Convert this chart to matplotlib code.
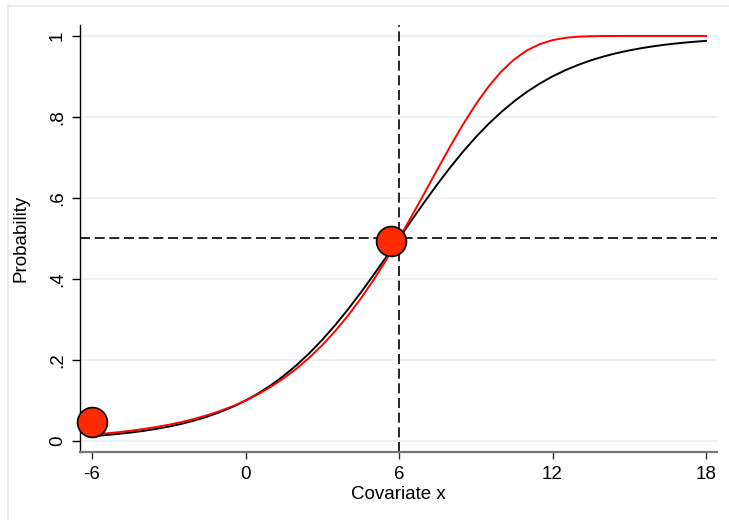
import matplotlib
matplotlib.use("Agg")
import matplotlib.pyplot as plt
from matplotlib.lines import Line2D

plt.rcParams['font.family'] = ['Liberation Sans', 'DejaVu Sans']

# Black curve
x_black = [-6, -5.5, -5, -4.5, -4, -3.5, -3, -2.5, -2, -1.5, -1, -0.5, 0, 0.5,
           1, 1.5, 2, 2.5, 3, 3.5, 4, 4.5, 5, 5.5, 6, 6.5, 7, 7.5, 8, 8.5, 9,
           9.5, 10, 10.5, 11, 11.5, 12, 12.5, 13, 13.5, 14, 14.5, 15, 15.5,
           16, 16.5, 17, 17.5, 18]
p_black = [0.0122, 0.0146, 0.0175, 0.0209, 0.0250, 0.0299, 0.0357, 0.0425,
           0.0507, 0.0602, 0.0715, 0.0846, 0.0999, 0.1176, 0.1380, 0.1614,
           0.1877, 0.2172, 0.2499, 0.2858, 0.3246, 0.3660, 0.4095, 0.4543,
           0.5000, 0.5457, 0.5905, 0.6340, 0.6754, 0.7142, 0.7501, 0.7828,
           0.8123, 0.8386, 0.8620, 0.8824, 0.9001, 0.9154, 0.9285, 0.9398,
           0.9493, 0.9575, 0.9643, 0.9701, 0.9750, 0.9791, 0.9825, 0.9854,
           0.9878]

# Red curve
x_red = [-6, -5.5, -5, -4.5, -4, -3.5, -3, -2.5, -2, -1.5, -1, -0.5, 0, 0.5,
         1, 1.5, 2, 2.5, 3, 3.5, 4, 4.5, 5, 5.5, 6, 6.5, 7, 7.5, 8, 8.5, 9,
         9.5, 10, 10.5, 11, 11.5, 12, 12.5, 13, 13.5, 14, 15, 16, 17, 18]
p_red = [0.0159, 0.0186, 0.0217, 0.0253, 0.0296, 0.0345, 0.0402, 0.0469,
         0.0547, 0.0637, 0.0741, 0.0861, 0.1000, 0.1160, 0.1343, 0.1553,
         0.1792, 0.2063, 0.2368, 0.2711, 0.3093, 0.3513, 0.3973, 0.4470,
         0.5000, 0.5556, 0.6128, 0.6705, 0.7272, 0.7813, 0.8311, 0.8751,
         0.9124, 0.9420, 0.9643, 0.9797, 0.9896, 0.9952, 0.9981, 0.9993,
         0.9998, 1.0000, 1.0000, 1.0000, 1.0000]

# Marked points
pts_x = [-6, 5.7]
pts_y = [0.046, 0.495]

# Reference lines
ref_x = 6
ref_y = 0.5

xticks = [-6, 0, 6, 12, 18]
xticklabels = ['-6', '0', '6', '12', '18']
yticks = [0, 0.2, 0.4, 0.6, 0.8, 1.0]
yticklabels = ['0', '.2', '.4', '.6', '.8', '1']

W, H = 729, 520
fig = plt.figure(figsize=(W / 100, H / 100), dpi=100)
fig.patch.set_facecolor('white')

# outer light frame (graph region)
fig.add_artist(Line2D([8 / W, 8 / W], [0, 1 - 6 / H], transform=fig.transFigure,
                      color='#e3eaec', lw=1.2))
fig.add_artist(Line2D([8 / W, 1], [1 - 6 / H, 1 - 6 / H], transform=fig.transFigure,
                      color='#e3eaec', lw=1.2))

ax = fig.add_axes([80 / W, (H - 452) / H, (717 - 80) / W, (452 - 25) / H])
ax.set_xlim(-6.47, 18.43)
ax.set_ylim(-0.027, 1.027)

for yv in yticks:
    ax.axhline(yv, color='#eaf1f3', lw=1.3, zorder=0)

ax.axvline(ref_x, color='black', lw=1.2, linestyle=(0, (6, 2.8)), zorder=2)
ax.axhline(ref_y, color='black', lw=1.2, linestyle=(0, (6, 2.8)), zorder=2)

ax.plot(x_black, p_black, color='black', lw=1.4, zorder=3)
ax.plot(x_red, p_red, color='#ff0000', lw=1.4, zorder=4)

ax.plot(pts_x, pts_y, linestyle='none', marker='o', markersize=21.5,
        markerfacecolor='#ff2a00', markeredgecolor='black', markeredgewidth=1.2,
        zorder=5, clip_on=False)

ax.set_xticks(xticks)
ax.set_xticklabels(xticklabels)
ax.set_yticks(yticks)
ax.set_yticklabels(yticklabels, rotation=90, va='center')

for s in ['top', 'right']:
    ax.spines[s].set_visible(False)
ax.spines['left'].set_color('black')
ax.spines['left'].set_linewidth(1.0)
ax.spines['bottom'].set_color('#777777')
ax.spines['bottom'].set_linewidth(1.6)

ax.tick_params(axis='y', direction='out', length=6, width=1.0, color='black',
               labelsize=13.5, pad=4)
ax.tick_params(axis='x', direction='out', length=5, width=1.0, color='#333333',
               labelsize=13.5, pad=5)

ax.set_xlabel('Covariate x', fontsize=13.5, labelpad=2)
ax.set_ylabel('Probability', fontsize=13.5, labelpad=14)

fig.savefig('out.png', dpi=100, facecolor='white')
